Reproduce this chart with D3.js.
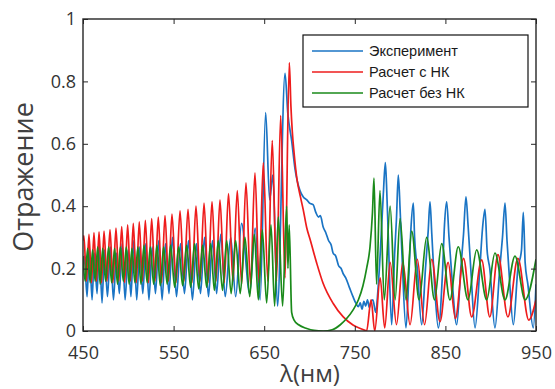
<!DOCTYPE html>
<html><head><meta charset="utf-8">
<script src="https://cdn.jsdelivr.net/npm/d3@7"></script>
<style>
html,body{margin:0;padding:0;background:#fff;}
svg{display:block;}
</style></head>
<body>
<svg id="chart" width="555" height="389"></svg>
<script>
// ---- data ----
const seriesNames = ["Эксперимент", "Расчет с НК", "Расчет без НК"];
const xTicks = [450, 550, 650, 750, 850, 950];
const yTicks = [0, 0.2, 0.4, 0.6, 0.8, 1];
const yTickLabels = ["0", "0.2", "0.4", "0.6", "0.8", "1"];

// Experiment (blue)
const expLambda = [450,451.5,454.5,457,460,462.5,465.5,468,471,473.7,477,480.3,483.6,486.9,490.1,493.2,496.5,499.8,502.9,506,509.3,512.6,516,519.3,522.8,526.3,530,533.6,537.3,541,544.9,548.7,553.2,557.6,562,566.4,570.8,575.2,579.7,584.1,588.5,592.9,597.5,602,607,613,618.5,625,634,640,645.5,651.6,656,659.5,664.7,673,676,680.3,684,689.5,693,697,700,704,707,710,712,715,718,721,724,726,729,732,735,737,740,744,748,751,754,756,758,760,762,764,766,768,770,773,776,779,781.5,783.7,785,787,790.7,794,796,798,800,802,806.5,810,812,814.6,816,819,823.8,828,831,833,835,838,842.2,847,849,851.4,854,857,862.5,867,870,872.7,875,878,882.7,888,891,893.7,896,899,904.7,910,913,915.8,918,920,925,930,934,936,938,941,947,950];
const expValue  = [0.2,0.24,0.11,0.27,0.1,0.25,0.12,0.28,0.09,0.26,0.11,0.27,0.1,0.25,0.12,0.28,0.1,0.26,0.11,0.29,0.1,0.27,0.12,0.28,0.1,0.27,0.12,0.29,0.1,0.28,0.12,0.3,0.11,0.28,0.12,0.29,0.1,0.28,0.12,0.3,0.11,0.29,0.12,0.31,0.11,0.3,0.11,0.345,0.12,0.33,0.1,0.7,0.42,0.5,0.08,0.826,0.7,0.61,0.52,0.45,0.43,0.42,0.41,0.405,0.38,0.365,0.37,0.334,0.315,0.29,0.275,0.25,0.24,0.21,0.2,0.185,0.17,0.14,0.11,0.09,0.078,0.09,0.07,0.095,0.08,0.1,0.075,0.095,0.1,0.06,0.15,0.3,0.44,0.54,0.47,0.3,0.02,0.25,0.36,0.5,0.39,0.25,0.01,0.2,0.33,0.41,0.3,0.2,0.02,0.2,0.32,0.414,0.31,0.15,0.01,0.2,0.34,0.414,0.3,0.18,0.02,0.2,0.31,0.43,0.34,0.2,0.01,0.2,0.33,0.39,0.26,0.2,0.01,0.2,0.3,0.41,0.29,0.2,0.02,0.2,0.26,0.38,0.22,0.15,0.01,0.15];

// Calculation with NC (red)
const ncLambda = [450,451,453.8,456.6,459.4,462.1,464.9,467.7,470.5,473.2,476.5,479.8,483.1,486.4,489.6,492.7,496,499.3,502.4,505.5,508.8,512.1,515.5,518.8,522.3,525.8,529.5,533.1,536.8,540.5,544.4,548.2,552.7,557.1,561.5,565.9,570.3,574.7,579.2,583.6,588,592.4,596.8,601.2,605.9,610.6,615.5,620.3,625.1,629.9,634.9,639.8,644.4,649,654,658.9,663.6,668.2,673,677.7,679.5,681,683,686,690,693,697,701,708,715,726,737,748,759,763,768,772,778,783,789,796,803,811,819,827,835,844,853,861,870,879,890,899,908,919,930,942,950];
const ncValue  = [0.29,0.305,0.16,0.31,0.155,0.315,0.16,0.318,0.155,0.32,0.16,0.325,0.155,0.33,0.16,0.335,0.155,0.34,0.16,0.345,0.155,0.35,0.16,0.355,0.155,0.36,0.16,0.365,0.155,0.37,0.16,0.375,0.155,0.385,0.16,0.39,0.155,0.4,0.16,0.41,0.155,0.415,0.16,0.42,0.155,0.44,0.16,0.45,0.15,0.475,0.15,0.507,0.155,0.54,0.16,0.61,0.16,0.69,0.17,0.86,0.72,0.64,0.57,0.49,0.43,0.39,0.33,0.29,0.217,0.153,0.089,0.046,0.019,0.005,0,0.1,0,0.17,0.01,0.22,0.02,0.22,0.02,0.23,0.02,0.23,0.03,0.22,0.04,0.233,0.045,0.228,0.045,0.245,0.045,0.233,0.035,0.1];

// Calculation without NC (green)
const noNcLambda = [450,452.3,455.1,457.9,460.6,463.4,466.2,469,471.7,475,478.3,481.6,484.9,488.1,491.2,494.5,497.8,500.9,504,507.3,510.6,514,517.3,520.8,524.3,528,531.6,535.3,539,542.9,546.7,551.2,555.6,560,564.4,568.8,573.2,577.7,582.1,586.5,590.9,595,599.3,604,608.6,613.5,618.5,623.5,628.8,634,639.1,643.5,647.9,652.7,657.5,661.5,665.6,670.3,674.8,676.2,677.6,680.3,683,688,697,705,715,725,734,741,748,754,759,763,766.8,769.5,771.2,774,777.8,782.5,789,794.5,800,806.5,812.8,821,829.3,838,845.9,855,864.2,875,884.5,895.6,904.7,915.8,926.8,938,950];
const noNcValue  = [0.24,0.16,0.265,0.155,0.26,0.16,0.27,0.15,0.265,0.16,0.27,0.155,0.265,0.15,0.27,0.16,0.27,0.15,0.265,0.155,0.27,0.15,0.275,0.155,0.27,0.15,0.275,0.145,0.27,0.15,0.275,0.14,0.27,0.145,0.275,0.14,0.28,0.135,0.275,0.14,0.28,0.13,0.29,0.13,0.29,0.12,0.29,0.12,0.3,0.11,0.31,0.1,0.324,0.09,0.34,0.08,0.366,0.08,0.4,0.2,0.34,0.06,0.035,0.02,0.008,0.002,0,0.004,0.02,0.04,0.067,0.1,0.145,0.2,0.27,0.38,0.49,0.15,0.45,0.1,0.4,0.1,0.36,0.1,0.32,0.1,0.3,0.1,0.28,0.1,0.27,0.1,0.26,0.1,0.25,0.1,0.24,0.1,0.23];

const seriesColors = ["#1a74c4", "#ee1c1c", "#1a8a1a"];

// ---- drawing ----
const svg = d3.select("#chart");
const mLeft = 83, mRight = 536, mTop = 19, mBottom = 331;
const x = d3.scaleLinear().domain([450, 950]).range([mLeft, mRight]);
const y = d3.scaleLinear().domain([0, 1]).range([mBottom, mTop]);

svg.append("rect").attr("width", 555).attr("height", 389).attr("fill", "#fff");

svg.append("defs").append("clipPath").attr("id", "clip")
  .append("rect").attr("x", mLeft).attr("y", mTop - 2).attr("width", mRight - mLeft).attr("height", mBottom - mTop + 2);

const line = d3.line().x(d => x(d[0])).y(d => y(d[1])).curve(d3.curveMonotoneX);
const series = [
  d3.zip(expLambda, expValue),
  d3.zip(ncLambda, ncValue),
  d3.zip(noNcLambda, noNcValue)
];
const g = svg.append("g").attr("clip-path", "url(#clip)");
series.forEach((s, i) => {
  g.append("path").datum(s).attr("d", line)
    .attr("fill", "none").attr("stroke", seriesColors[i])
    .attr("stroke-width", 1.7).attr("stroke-linejoin", "round");
});

// axes
const axisColor = "#262626";
const fontTick = "'Open Sans', 'DejaVu Sans', sans-serif";
function styleAxis(sel) {
  sel.select(".domain").remove();
  sel.selectAll(".tick line").attr("stroke", axisColor).attr("stroke-width", 1);
  sel.selectAll(".tick text").attr("fill", "#333").style("font-family", fontTick).style("font-size", "18px");
}
svg.append("g").attr("transform", `translate(0,${mBottom})`)
  .call(d3.axisBottom(x).tickValues(xTicks).tickSize(-5).tickPadding(15).tickFormat(d3.format("d")))
  .call(styleAxis);
svg.append("g").attr("transform", `translate(0,${mTop})`)
  .call(d3.axisTop(x).tickValues(xTicks).tickSize(-5).tickFormat(""))
  .call(styleAxis);
svg.append("g").attr("transform", `translate(${mLeft},0)`)
  .call(d3.axisLeft(y).tickValues(yTicks).tickSize(-5).tickPadding(7).tickFormat((d, i) => yTickLabels[i]))
  .call(styleAxis);
svg.append("g").attr("transform", `translate(${mRight},0)`)
  .call(d3.axisRight(y).tickValues(yTicks).tickSize(-5).tickFormat(""))
  .call(styleAxis);

svg.append("rect").attr("x", mLeft).attr("y", mTop).attr("width", mRight - mLeft).attr("height", mBottom - mTop)
  .attr("fill", "none").attr("stroke", axisColor).attr("stroke-width", 1.4);

// axis titles
svg.append("text").attr("x", 310).attr("y", 382).attr("text-anchor", "middle")
  .style("font-family", fontTick).style("font-size", "24px").attr("fill", "#404040").text("λ(нм)");
svg.append("text").attr("transform", "translate(33,177) rotate(-90)").attr("text-anchor", "middle")
  .style("font-family", fontTick).style("font-size", "27px").attr("fill", "#404040").text("Отражение");

// legend
const lg = svg.append("g");
lg.append("rect").attr("x", 303).attr("y", 35).attr("width", 225).attr("height", 72)
  .attr("fill", "#fff").attr("stroke", "#111").attr("stroke-width", 1.2);
const rowsY = [51, 72, 93];
seriesNames.forEach((name, i) => {
  lg.append("line").attr("x1", 312).attr("x2", 363).attr("y1", rowsY[i]).attr("y2", rowsY[i])
    .attr("stroke", seriesColors[i]).attr("stroke-width", 1.5);
  lg.append("text").attr("x", 369).attr("y", rowsY[i]).attr("dy", "0.35em")
    .style("font-family", "'Liberation Sans', Arial, sans-serif").style("font-size", "14.5px")
    .attr("fill", "#1a1a1a").text(name);
});
</script>
</body></html>
